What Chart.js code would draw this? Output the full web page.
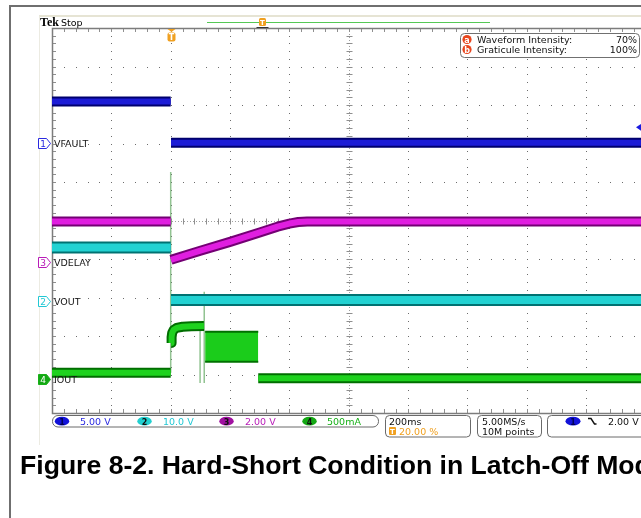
<!DOCTYPE html>
<html><head><meta charset="utf-8">
<script src="https://cdn.jsdelivr.net/npm/chart.js@4/dist/chart.umd.min.js"></script>
<style>
html,body{margin:0;padding:0;width:641px;height:518px;overflow:hidden;background:#fff;}
#frameTop{position:absolute;left:9px;top:5px;width:640px;height:2px;background:#6f6f6f;}
#frameLeft{position:absolute;left:9px;top:5px;width:2px;height:520px;background:#6f6f6f;}
#scope{position:absolute;left:39px;top:15px;width:610px;height:428px;background:#fff;border-left:1px solid #ecebe2;border-top:2px solid #e6e4d4;}
#cwrap{position:absolute;left:0;top:0;width:700px;height:450px;}
#ov{position:absolute;left:0;top:0;}
#caption{position:absolute;left:20px;top:450px;font-family:"Liberation Sans",Arial,sans-serif;font-weight:bold;font-size:26.6px;white-space:nowrap;color:#000;}
</style></head>
<body>
<div id="frameTop"></div><div id="frameLeft"></div>
<div id="scope"></div>
<div id="cwrap"><canvas id="c" width="700" height="450"></canvas></div>
<svg id="ov" width="641" height="518" xmlns="http://www.w3.org/2000/svg"></svg>
<div id="caption">Figure 8-2. Hard-Short Condition in Latch-Off Mode</div>
<script>
// ---- scope settings ----
const TIME_PER_DIV = 200;          // ms/div
const TRIGGER_POS = 0.20;          // 20.00 %
const X_MIN = -TRIGGER_POS * 10 * TIME_PER_DIV;
const X_MAX = X_MIN + 10 * TIME_PER_DIV;

const chNames = ['VFAULT', 'VOUT', 'VDELAY', 'IOUT'];
const chNumbers = ['1', '2', '3', '4'];
const chScaleText = ['5.00 V', '10.0 V', '2.00 V', '500mA'];
const chScale = [5, 10, 2, 500];              // units per division
const chOffsetDiv = [2.02, -2.09, -1.07, -4.12]; // ground marker positions
const trigLevelV = 2.0;

// ---- waveforms (time in ms, values in channel units) ----
// Ch1 VFAULT (V)
const vfaultT = [-400, 0, 0, 1, 1600];
const vfaultV = [5.35, 5.35, null, 0, 0];
// Ch2 VOUT (V)
const voutT = [-400, 0, 0, 1, 1600];
const voutV = [13.9, 13.9, null, 0.25, 0.25];
// Ch3 VDELAY (V)
const vdelayT = [-400, 0, 0, 1, 100, 200, 300, 360, 400, 430, 460, 1600];
const vdelayV = [2.09, 2.09, null, 0.10, 0.57, 1.03, 1.52, 1.82, 1.98, 2.06, 2.09, 2.09];
// Ch4 IOUT (mA)
const ioutT = [-400, 0, 0, 1.5, 3, 5, 10, 20, 40, 70, 112, 112, 295, 1600];
const ioutV = [82, 82, null, 470, 545, 600, 640, 665, 680, 688, 690, null, 10, 10];
const ioutBandT = [116, 295];
const ioutBandHi = [614, 614];
const ioutBandLo = [226, 226];
const ioutSpikeT = [0, 0, 0, 99, 99, 99, 113, 113];
const ioutSpikeV = [82, 2690, null, 700, -50, null, 1134, -50];

function pts(t, v, ch) {
  return t.map((tt, i) => ({ x: tt, y: v[i] === null ? null : v[i] / chScale[ch] + chOffsetDiv[ch] }));
}
function traceSets(t, v, ch, dark, bright, wOut, wIn, order) {
  const d = pts(t, v, ch);
  const base = { pointRadius: 0, spanGaps: false, borderCapStyle: 'butt', borderJoinStyle: 'round', fill: false, tension: 0 };
  return [
    Object.assign({}, base, { data: d, borderColor: dark, borderWidth: wOut, order: order + 1 }),
    Object.assign({}, base, { data: d, borderColor: bright, borderWidth: wIn, order: order })
  ];
}

const datasets = [].concat(
  [{ data: pts(ioutSpikeT, ioutSpikeV, 3), borderColor: 'rgba(110,175,110,0.75)', borderWidth: 1.5, pointRadius: 0, spanGaps: false, fill: false, order: 20 }],
  traceSets(vfaultT, vfaultV, 0, '#00006e', '#1c1cd6', 10, 6, 10),
  traceSets(voutT, voutV, 1, '#007272', '#22d2d2', 12, 8, 10),
  traceSets(vdelayT, vdelayV, 2, '#740074', '#e01ee0', 10, 6, 8),
  traceSets(ioutT, ioutV, 3, '#006e00', '#1ed21e', 10, 6, 6),
  [{ data: pts(ioutBandT, ioutBandHi, 3), borderColor: '#007000', borderWidth: 2, pointRadius: 0, fill: false, order: 4 },
   { data: pts(ioutBandT, ioutBandLo, 3), borderColor: '#007000', borderWidth: 2, pointRadius: 0, fill: '-1', backgroundColor: '#1bcc1b', order: 4 }]
);

const graticule = {
  id: 'graticule',
  beforeDatasetsDraw(chart) {
    const { ctx, chartArea: a, scales: { x, y } } = chart;
    ctx.save();
    ctx.fillStyle = '#6c6c6c';
    const subX = TIME_PER_DIV / 5;
    for (let i = 1; i < 10; i++) {
      if (i === 5) continue;
      const px = Math.round(x.getPixelForValue(X_MIN + i * TIME_PER_DIV));
      for (let k = 1; k < 50; k++) {
        const py = Math.round(y.getPixelForValue(-5 + k * 0.2));
        ctx.fillRect(px, py, 1, 1);
      }
    }
    for (let j = 1; j < 10; j++) {
      if (j === 5) continue;
      const py = Math.round(y.getPixelForValue(-5 + j));
      for (let k = 1; k < 50; k++) {
        const px = Math.round(x.getPixelForValue(X_MIN + k * subX));
        ctx.fillRect(px, py, 1, 1);
      }
    }
    // center cross
    const cx = Math.round(x.getPixelForValue(X_MIN + 5 * TIME_PER_DIV)) + 0.5;
    const cy = Math.round(y.getPixelForValue(0)) + 0.5;
    ctx.strokeStyle = '#a0a0a0';
    ctx.lineWidth = 1;
    ctx.setLineDash([1, 2]);
    ctx.beginPath();
    ctx.moveTo(cx, a.top); ctx.lineTo(cx, a.bottom);
    ctx.moveTo(a.left, cy); ctx.lineTo(a.right, cy);
    ctx.stroke();
    ctx.setLineDash([]);
    ctx.strokeStyle = '#8f8f8f';
    ctx.beginPath();
    for (let k = 1; k < 50; k++) {
      const py = Math.round(y.getPixelForValue(-5 + k * 0.2)) + 0.5;
      ctx.moveTo(cx - 3, py); ctx.lineTo(cx + 3, py);
      ctx.moveTo(a.left, py); ctx.lineTo(a.left + 4, py);
      ctx.moveTo(a.right, py); ctx.lineTo(a.right - 4, py);
      const px = Math.round(x.getPixelForValue(X_MIN + k * subX)) + 0.5;
      ctx.moveTo(px, cy - 3); ctx.lineTo(px, cy + 3);
      ctx.moveTo(px, a.top); ctx.lineTo(px, a.top + 4);
      ctx.moveTo(px, a.bottom); ctx.lineTo(px, a.bottom - 4);
    }
    ctx.stroke();
    // border
    ctx.strokeStyle = '#7c7c7c';
    ctx.lineWidth = 1.5;
    ctx.strokeRect(a.left + 0.5, a.top + 0.5, a.right - a.left, a.bottom - a.top);
    ctx.restore();
  }
};

const chart = new Chart(document.getElementById('c'), {
  type: 'line',
  data: { datasets },
  options: {
    responsive: false,
    animation: false,
    events: [],
    layout: { padding: { left: 52, right: 54.5, top: 28, bottom: 37 } },
    scales: {
      x: { type: 'linear', min: X_MIN, max: X_MAX, display: false },
      y: { type: 'linear', min: -5, max: 5, display: false }
    },
    plugins: { legend: { display: false }, tooltip: { enabled: false } }
  },
  plugins: [graticule]
});

// ---- overlay decorations (real SVG text) ----
const NS = 'http://www.w3.org/2000/svg';
const ov = document.getElementById('ov');
function el(tag, attrs, text) {
  const e = document.createElementNS(NS, tag);
  for (const k in attrs) e.setAttribute(k, attrs[k]);
  if (text !== undefined) e.textContent = text;
  ov.appendChild(e);
  return e;
}
const FONT = 'DejaVu Sans, sans-serif';
const ys = chart.scales.y, xs = chart.scales.x, ca = chart.chartArea;
const chColor = ['#2a2ae0', '#22c8d4', '#b81cb8', '#18b018'];
const chFill = ['#1212d8', '#22d0d0', '#a010a0', '#14a814'];

// channel ground markers & labels
chNames.forEach((name, i) => {
  const py = Math.round(ys.getPixelForValue(chOffsetDiv[i])) + 0.5;
  const filled = i === 3;
  el('path', { d: `M38.5,${py - 5} h8 l4,5 l-4,5 h-8 z`, fill: filled ? chFill[3] : '#fff', stroke: chColor[i], 'stroke-width': 1, 'stroke-linejoin': 'round' });
  el('text', { x: 43, y: py + 3.5, 'font-family': FONT, 'font-size': 9, 'text-anchor': 'middle', fill: filled ? '#fff' : chColor[i] }, chNumbers[i]);
  el('text', { x: 54, y: py + 3.5, 'font-family': FONT, 'font-size': 9.5, fill: '#151515' }, name);
});

// trigger level marker (right edge, ch1)
const tly = ys.getPixelForValue(trigLevelV / chScale[0] + chOffsetDiv[0]);
el('path', { d: `M636,${tly} l6,-4 v8 z`, fill: '#1a1ae0' });

// trigger position marker (top)
const tx = Math.round(xs.getPixelForValue(0)) + 0.5;
el('path', { d: `M${tx - 4},${ca.top + 1} h8 l-4,3 z`, fill: '#f0a020' });
el('rect', { x: tx - 4, y: ca.top + 4.5, width: 8, height: 9, rx: 2, fill: '#f0a020' });
el('text', { x: tx, y: ca.top + 12, 'font-family': FONT, 'font-size': 8, 'font-weight': 'bold', 'text-anchor': 'middle', fill: '#fff' }, 'T');

// header
el('text', { x: 40, y: 26, 'font-family': 'Liberation Serif, serif', 'font-size': 12, 'font-weight': 'bold', fill: '#000' }, 'Tek');
el('text', { x: 61, y: 26, 'font-family': FONT, 'font-size': 9.5, fill: '#000' }, 'Stop');
el('line', { x1: 207, y1: 22.5, x2: 490, y2: 22.5, stroke: '#55c855', 'stroke-width': 1 });
el('rect', { x: 259, y: 18, width: 7, height: 8, rx: 1.5, fill: '#f0a020' });
el('text', { x: 262.5, y: 25, 'font-family': FONT, 'font-size': 7, 'font-weight': 'bold', 'text-anchor': 'middle', fill: '#fff' }, 'T');
el('path', { d: 'M256.5,27.5 h12', stroke: '#333', 'stroke-width': 1 });

// intensity box
el('rect', { x: 460.5, y: 33.5, width: 179, height: 24, rx: 4, fill: '#fff', stroke: '#707070', 'stroke-width': 1 });
[['a', 'Waveform Intensity:', '70%', 39.5], ['b', 'Graticule Intensity:', '100%', 49.5]].forEach(r => {
  el('circle', { cx: 467, cy: r[3], r: 4.6, fill: '#e8461e' });
  el('text', { x: 467, y: r[3] + 3, 'font-family': FONT, 'font-size': 8, 'font-weight': 'bold', 'text-anchor': 'middle', fill: '#fff' }, r[0]);
  el('text', { x: 477, y: r[3] + 3.5, 'font-family': FONT, 'font-size': 9.5, fill: '#111' }, r[1]);
  el('text', { x: 637, y: r[3] + 3.5, 'font-family': FONT, 'font-size': 9.5, 'text-anchor': 'end', fill: '#111' }, r[2]);
});

// status bar
el('rect', { x: 52.5, y: 415.5, width: 326, height: 11.5, rx: 5.5, fill: '#fff', stroke: '#6a6a6a', 'stroke-width': 1 });
const chBadgeX = [62, 144.5, 226.5, 309.5];
const chTextX = [80, 163, 245, 327];
chNames.forEach((n, i) => {
  el('ellipse', { cx: chBadgeX[i], cy: 421.2, rx: 7.2, ry: 4.4, fill: chFill[i] });
  el('text', { x: chBadgeX[i], y: 424.5, 'font-family': FONT, 'font-size': 8, 'font-weight': 'bold', 'text-anchor': 'middle', fill: i === 0 ? '#000050' : '#101010' }, chNumbers[i]);
  el('text', { x: chTextX[i], y: 425, 'font-family': FONT, 'font-size': 9.5, fill: chColor[i] }, chScaleText[i]);
});
el('rect', { x: 385.5, y: 415.5, width: 85, height: 21.5, rx: 4, fill: '#fff', stroke: '#6a6a6a', 'stroke-width': 1 });
el('text', { x: 389, y: 424.5, 'font-family': FONT, 'font-size': 9.5, fill: '#111' }, TIME_PER_DIV + 'ms');
el('rect', { x: 389, y: 427, width: 7, height: 8, rx: 1, fill: '#f0a020' });
el('text', { x: 392.5, y: 434, 'font-family': FONT, 'font-size': 7, 'font-weight': 'bold', 'text-anchor': 'middle', fill: '#fff' }, 'T');
el('text', { x: 399, y: 435, 'font-family': FONT, 'font-size': 9.5, fill: '#f0a020' }, (TRIGGER_POS * 100).toFixed(2) + ' %');
el('rect', { x: 477.5, y: 415.5, width: 64, height: 21.5, rx: 4, fill: '#fff', stroke: '#6a6a6a', 'stroke-width': 1 });
el('text', { x: 482, y: 424.5, 'font-family': FONT, 'font-size': 9.5, fill: '#111' }, '5.00MS/s');
el('text', { x: 482, y: 435, 'font-family': FONT, 'font-size': 9.5, fill: '#111' }, '10M points');
el('rect', { x: 547.5, y: 415.5, width: 110, height: 21.5, rx: 4, fill: '#fff', stroke: '#6a6a6a', 'stroke-width': 1 });
el('ellipse', { cx: 573, cy: 421.2, rx: 7.5, ry: 4.4, fill: chFill[0] });
el('text', { x: 573, y: 424.5, 'font-family': FONT, 'font-size': 8, 'font-weight': 'bold', 'text-anchor': 'middle', fill: '#000050' }, '1');
el('path', { d: 'M588,418.5 h3 l3.5,5.5 h2', fill: 'none', stroke: '#111', 'stroke-width': 1.4 });
el('text', { x: 608, y: 424.5, 'font-family': FONT, 'font-size': 9.5, fill: '#111' }, trigLevelV.toFixed(2) + ' V');
</script>
</body></html>
